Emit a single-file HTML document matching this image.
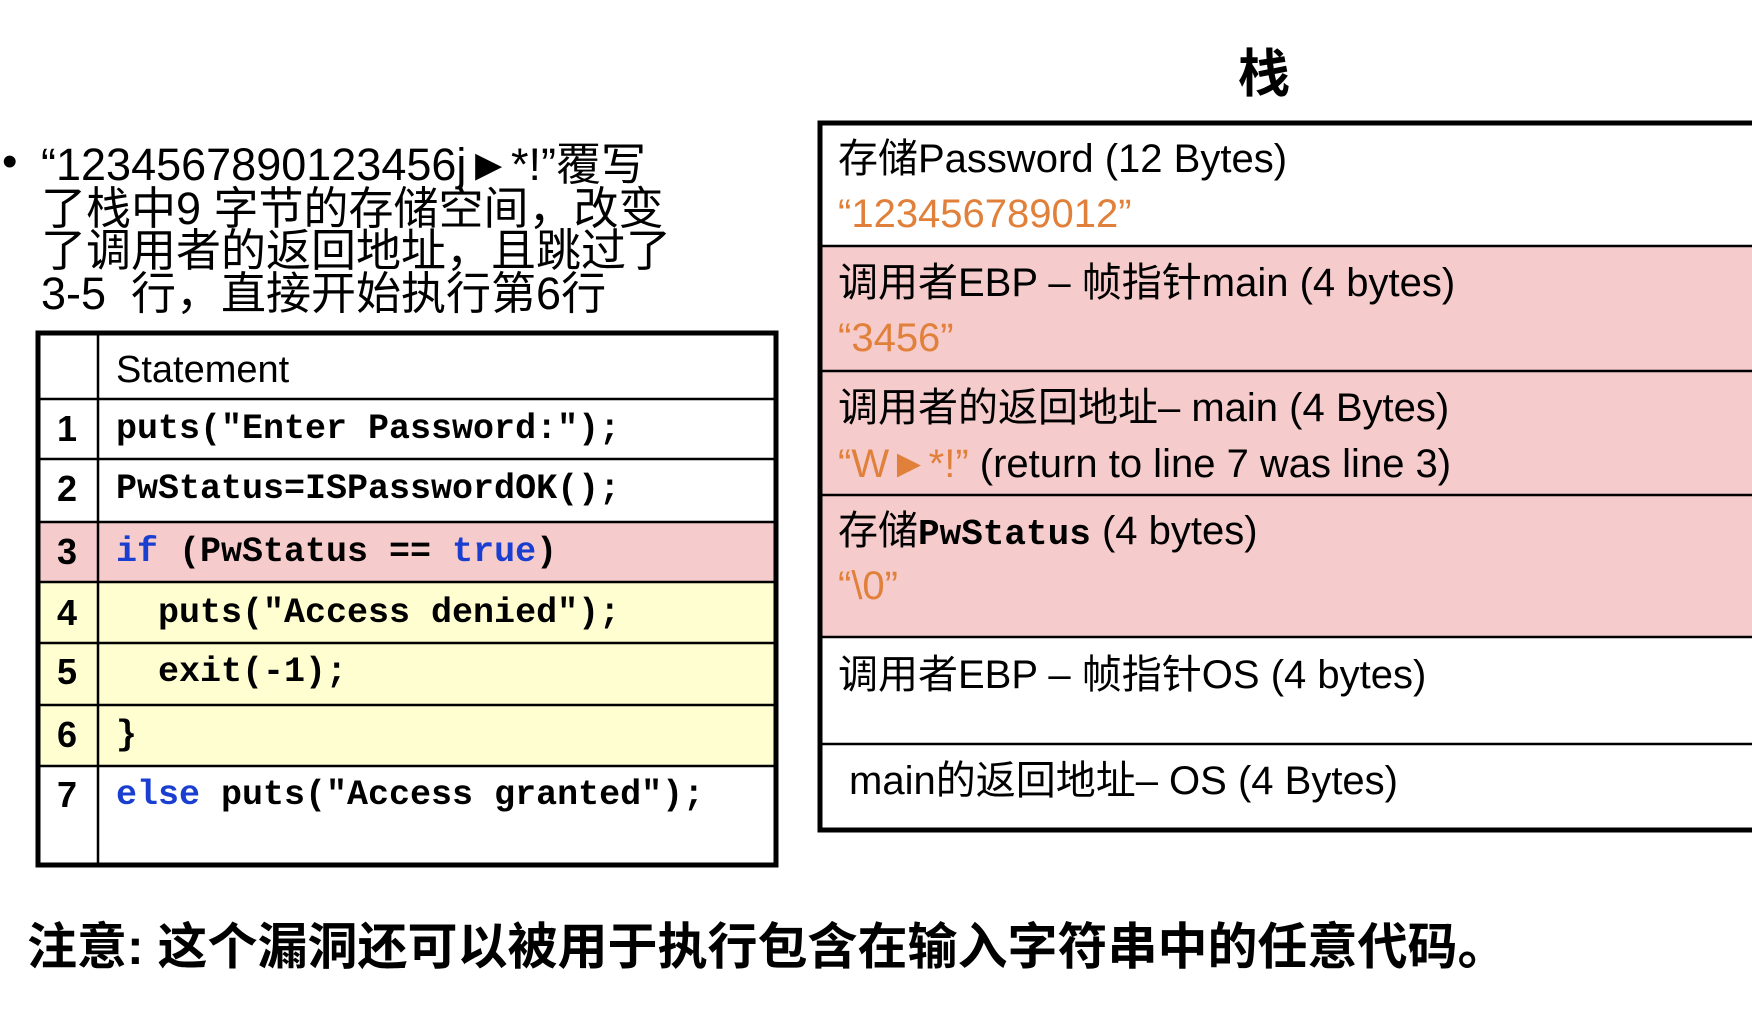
<!DOCTYPE html>
<html><head><meta charset="utf-8"><style>
body{margin:0;width:1752px;height:1016px;background:#fff;position:relative;overflow:hidden;font-family:"Liberation Sans","Noto Sans CJK SC",sans-serif;color:#000}
.a{position:absolute;white-space:nowrap}
.l{position:absolute;line-height:50px;height:50px;white-space:nowrap}
.bl{font-size:45px;left:41px}
.rt{font-size:40px;left:838px}
.or{color:#e0803a}
.mono{font-family:"Liberation Mono",monospace;font-weight:bold;font-size:35px}
.kw{color:#1a3fd0}
.num{font-size:36px;font-weight:bold;width:60px;text-align:center;left:37px}
.code{left:116px}
</style></head><body>
<div class="l" style="left:2px;top:137px;font-size:44px">•</div>
<div class="l bl" style="top:140px">“1234567890123456j►*!”覆写</div>
<div class="l bl" style="top:184px">了栈中9 字节的存储空间，改变</div>
<div class="l bl" style="top:226px">了调用者的返回地址，且跳过了</div>
<div class="l bl" style="top:269px">3-5&nbsp; 行，直接开始执行第6行</div>

<div class="a" style="left:37px;top:399px;width:740px;height:60px;background:#fff"></div>
<div class="a" style="left:37px;top:522px;width:740px;height:60px;background:#f6cbcb"></div>
<div class="a" style="left:37px;top:582px;width:740px;height:184px;background:#fefed0"></div>
<svg class="a" style="left:0;top:0" width="1752" height="1016">
<g stroke="#000" stroke-width="2.5" fill="none">
<line x1="98" y1="332" x2="98" y2="866"/>
<line x1="37" y1="399" x2="777" y2="399"/>
<line x1="37" y1="459" x2="777" y2="459"/>
<line x1="37" y1="522" x2="777" y2="522"/>
<line x1="37" y1="582" x2="777" y2="582"/>
<line x1="37" y1="643" x2="777" y2="643"/>
<line x1="37" y1="705" x2="777" y2="705"/>
<line x1="37" y1="766" x2="777" y2="766"/>
</g>
<rect x="38" y="333" width="738" height="532" fill="none" stroke="#000" stroke-width="5"/>
</svg>
<div class="l" style="left:116px;top:345px;font-size:38px">Statement</div>
<div class="l num" style="top:404px">1</div><div class="l code mono" style="top:404px">puts("Enter Password:");</div>
<div class="l num" style="top:464px">2</div><div class="l code mono" style="top:464px">PwStatus=ISPasswordOK();</div>
<div class="l num" style="top:527px">3</div><div class="l code mono" style="top:527px"><span class="kw">if</span> (PwStatus == <span class="kw">true</span>)</div>
<div class="l num" style="top:588px">4</div><div class="l code mono" style="top:588px">&nbsp;&nbsp;puts("Access denied");</div>
<div class="l num" style="top:647px">5</div><div class="l code mono" style="top:647px">&nbsp;&nbsp;exit(-1);</div>
<div class="l num" style="top:710px">6</div><div class="l code mono" style="top:710px">}</div>
<div class="l num" style="top:770px">7</div><div class="l code mono" style="top:770px"><span class="kw">else</span> puts("Access granted");</div>

<div class="a" style="left:1238px;top:45px;font-size:52px;font-weight:bold;line-height:60px">栈</div>
<div class="a" style="left:818px;top:246px;width:934px;height:391px;background:#f6cbcb"></div>
<svg class="a" style="left:0;top:0" width="1752" height="1016">
<g stroke="#000" stroke-width="2.5">
<line x1="818" y1="246" x2="1752" y2="246"/>
<line x1="818" y1="371" x2="1752" y2="371"/>
<line x1="818" y1="495" x2="1752" y2="495"/>
<line x1="818" y1="637" x2="1752" y2="637"/>
<line x1="818" y1="744" x2="1752" y2="744"/>
</g>
<rect x="820" y="123" width="940" height="707" fill="none" stroke="#000" stroke-width="5"/>
</svg>
<div class="l rt" style="top:134px">存储Password (12 Bytes)</div>
<div class="l rt or" style="top:189px">“123456789012”</div>
<div class="l rt" style="top:258px">调用者EBP – 帧指针main (4 bytes)</div>
<div class="l rt or" style="top:313px">“3456”</div>
<div class="l rt" style="top:383px">调用者的返回地址– main (4 Bytes)</div>
<div class="l rt" style="top:439px"><span class="or">“W►*!”</span> (return to line 7 was line 3)</div>
<div class="l rt" style="top:506px">存储<span class="mono" style="font-size:36px">PwStatus</span> (4 bytes)</div>
<div class="l rt or" style="top:561px">“\0”</div>
<div class="l rt" style="top:650px">调用者EBP – 帧指针OS (4 bytes)</div>
<div class="l rt" style="top:756px;left:849px">main的返回地址– OS (4 Bytes)</div>

<div class="l" style="left:27px;top:922px;font-size:50px;font-weight:bold">注意: 这个漏洞还可以被用于执行包含在输入字符串中的任意代码。</div>
</body></html>
